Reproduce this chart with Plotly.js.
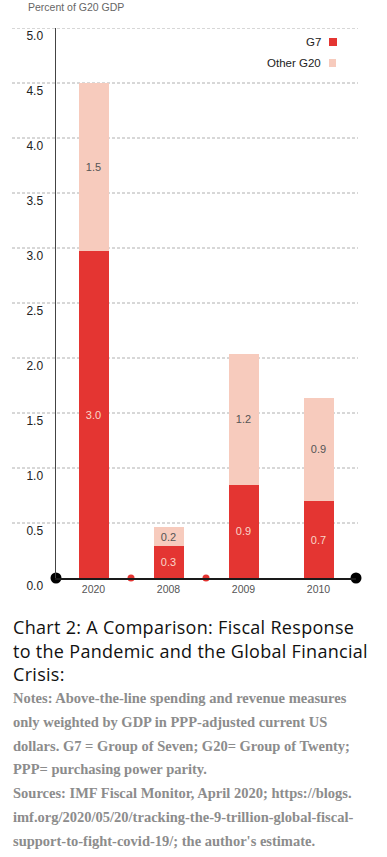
<!DOCTYPE html>
<html>
<head>
<meta charset="utf-8">
<script src="https://cdn.plot.ly/plotly-3.0.1.min.js"></script>
<style>
  html, body { margin: 0; padding: 0; background: #fff; width: 387px; height: 857px; overflow: hidden; }
  #chart { position: absolute; left: 0; top: 0; width: 387px; height: 610px; }
  #title { position: absolute; left: 13px; top: 616px; width: 374px; font-family: 'Open Sans', 'Noto Sans', sans-serif; font-size: 18px; letter-spacing: 0.3px; line-height: 23.5px; color: #111; white-space: nowrap; }
  #notes { position: absolute; left: 13px; top: 687px; width: 374px; font-family: 'Liberation Serif', serif; font-weight: bold; font-size: 14.5px; line-height: 23.8px; color: #8c8c8c; white-space: nowrap; }
</style>
</head>
<body>
<div id="chart"></div>
<div id="title">Chart 2: A Comparison: Fiscal Response<br>to the Pandemic and the Global Financial<br>Crisis:</div>
<div id="notes">Notes: Above-the-line spending and revenue measures<br>only weighted by GDP in PPP-adjusted current US<br>dollars. G7 = Group of Seven; G20= Group of Twenty;<br>PPP= purchasing power parity.<br>Sources: IMF Fiscal Monitor, April 2020; https://blogs.<br>imf.org/2020/05/20/tracking-the-9-trillion-global-fiscal-<br>support-to-fight-covid-19/; the author's estimate.</div>
<script>
// ---- data ----
const years = ['2020', '2008', '2009', '2010'];
const xPos = [0, 1, 2, 3];
const g7 = [2.97, 0.29, 0.85, 0.70];
const otherG20 = [1.53, 0.17, 1.19, 0.94];
const g7Labels = ['3.0', '0.3', '0.9', '0.7'];
const otherLabels = ['1.5', '0.2', '1.2', '0.9'];
const yTicks = [0, 0.5, 1, 1.5, 2, 2.5, 3, 3.5, 4, 4.5, 5];
const yTickLabels = ['0.0', '0.5', '1.0', '1.5', '2.0', '2.5', '3.0', '3.5', '4.0', '4.5', '5.0'];
const axisEnds = [-0.5, 3.5];
const breakMarks = [0.5, 1.5];

const RED = '#e43532';
const PINK = '#f7cbbd';

const traces = [
  {
    type: 'bar', name: 'G7', x: xPos, y: g7, width: 0.4,
    marker: { color: RED }, text: g7Labels, textposition: 'inside', insidetextanchor: 'middle',
    textfont: { family: 'Liberation Sans, Arial, sans-serif', size: 11, color: '#f9d6c9' },
    hoverinfo: 'skip', showlegend: false
  },
  {
    type: 'bar', name: 'Other G20', x: xPos, y: otherG20, width: 0.4,
    marker: { color: PINK }, text: otherLabels, textposition: 'inside', insidetextanchor: 'middle',
    textfont: { family: 'Liberation Sans, Arial, sans-serif', size: 11, color: '#555' },
    hoverinfo: 'skip', showlegend: false
  },
  {
    type: 'scatter', mode: 'markers', x: axisEnds, y: axisEnds.map(() => 0),
    marker: { color: '#000', size: 11 }, cliponaxis: false, hoverinfo: 'skip', showlegend: false
  },
  {
    type: 'scatter', mode: 'markers', x: breakMarks, y: breakMarks.map(() => 0),
    marker: { color: RED, size: 7 }, cliponaxis: false, hoverinfo: 'skip', showlegend: false
  }
];

const plotLeft = 56, plotW = 300;
const px2paperX = p => (p - plotLeft) / plotW;

const shapes = yTicks.filter(v => v > 0).map(v => ({
  type: 'line', xref: 'paper', yref: 'y', x0: px2paperX(12), x1: px2paperX(358), y0: v, y1: v,
  line: { color: '#b0b0b0', width: 1, dash: '3px,2px' }, layer: 'below'
}));
// legend squares
shapes.push({ type: 'rect', xref: 'paper', yref: 'paper', x0: px2paperX(329), x1: px2paperX(337),
  y0: (578 - 46) / 550, y1: (578 - 38) / 550, fillcolor: RED, line: { width: 0 } });
shapes.push({ type: 'rect', xref: 'paper', yref: 'paper', x0: px2paperX(329), x1: px2paperX(336),
  y0: (578 - 67) / 550, y1: (578 - 59) / 550, fillcolor: PINK, line: { width: 0 } });

const layout = {
  width: 387, height: 610,
  margin: { l: 56, r: 31, t: 28, b: 32, pad: 0 },
  paper_bgcolor: '#fff', plot_bgcolor: '#fff',
  barmode: 'stack',
  showlegend: false,
  font: { family: 'Liberation Sans, Arial, sans-serif', color: '#222' },
  xaxis: {
    range: [-0.5, 3.5], tickvals: xPos, ticktext: years, showgrid: false, zeroline: false,
    showline: true, linecolor: '#1a1a1a', linewidth: 2, ticks: '',
    tickfont: { size: 10.5, color: '#555' }, fixedrange: true
  },
  yaxis: {
    range: [0, 5], tickvals: yTicks, ticktext: yTickLabels, showgrid: false, zeroline: false,
    showline: true, linecolor: '#444', linewidth: 1.5, ticks: '',
    tickfont: { size: 12, color: '#222' }, ticklabelshift: 8, ticklabelstandoff: 9, fixedrange: true
  },
  shapes: shapes,
  annotations: [
    { xref: 'paper', yref: 'paper', x: px2paperX(26), y: (578 - 7) / 550, xanchor: 'left', yanchor: 'middle',
      text: 'Percent of G20 GDP', showarrow: false, font: { size: 10.5, color: '#666' } },
    { xref: 'paper', yref: 'paper', x: px2paperX(323), y: (578 - 42) / 550, xanchor: 'right', yanchor: 'middle',
      text: 'G7', showarrow: false, font: { size: 11.5, color: '#222' } },
    { xref: 'paper', yref: 'paper', x: px2paperX(323), y: (578 - 63) / 550, xanchor: 'right', yanchor: 'middle',
      text: 'Other G20', showarrow: false, font: { size: 11.5, color: '#222' } }
  ]
};

Plotly.newPlot('chart', traces, layout, { displayModeBar: false, staticPlot: true });
</script>
</body>
</html>
